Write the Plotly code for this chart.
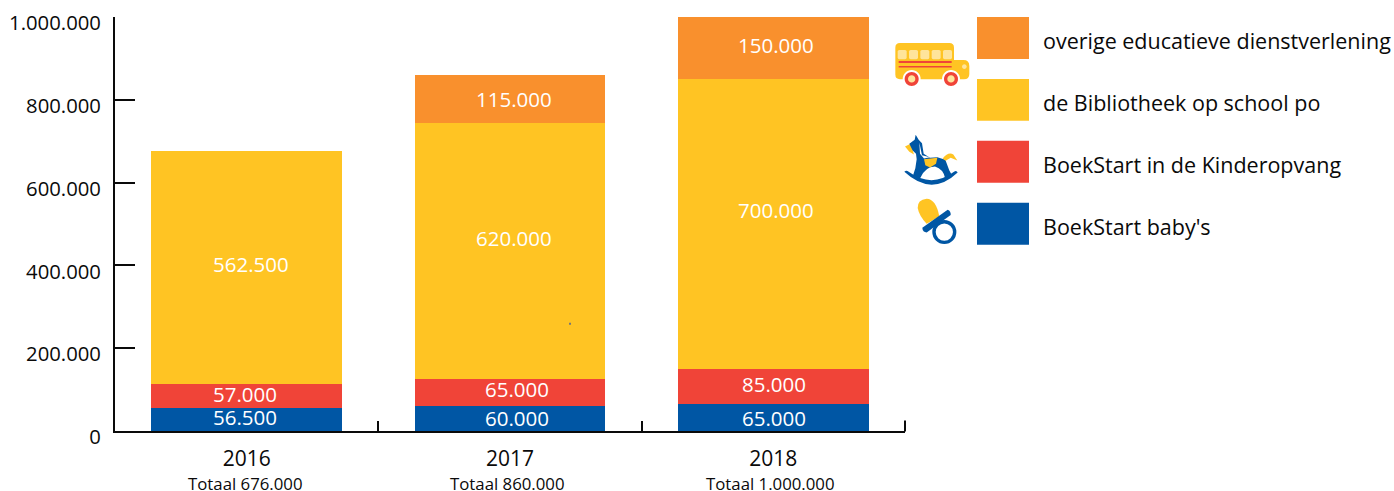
import re
import plotly.graph_objects as go

years = ["2016", "2017", "2018"]
totals = [676000, 860000, 1000000]
series_names = ["BoekStart baby's", "BoekStart in de Kinderopvang", "de Bibliotheek op school po", "overige educatieve dienstverlening"]
babys = [56500, 60000, 65000]
kinderopvang = [57000, 65000, 85000]
bibliotheek = [562500, 620000, 700000]
overige = [None, 115000, 150000]
colors = ["#0056A4", "#F04438", "#FFC423", "#F9902D"]
y_ticks = [0, 200000, 400000, 600000, 800000, 1000000]

# how far each value label sits from the middle of its segment, in pixels
label_lift = [
    [2, 1, 0],
    [2, 4, 3],
    [4, 12.5, 14],
    [0, 0, 3],
]
label_nudge = [
    [-1.5, 6.5, 0.5],
    [-1.5, 6.5, 0.5],
    [4, 4, 2.5],
    [0, 4, 2.5],
]
total_nudge = [-1.5, -3, -3]

W, H = 1394, 491
L, R, T, B = 115, 905, 17, 431.5
FONT = "Open Sans"
INK = "#0a0a0a"


def nl(v):
    return f"{v:,}".replace(",", ".")


def px_x(x):
    return (x - L) / (R - L)


def px_y(y):
    return (B - y) / (B - T)


fig = go.Figure()
all_series = [babys, kinderopvang, bibliotheek, overige]
for name, vals, col in zip(series_names, all_series, colors):
    fig.add_bar(x=years, y=vals, name=name, marker=dict(color=col, line_width=0), showlegend=False)

shapes, ann = [], []

# value labels
base = [0, 0, 0]
for vals, lifts, nudges in zip(all_series, label_lift, label_nudge):
    for i, (v, lift, nudge) in enumerate(zip(vals, lifts, nudges)):
        if v:
            ann.append(dict(text=nl(v), x=i, xref="x", y=base[i] + v / 2, yref="y", yshift=lift, xshift=nudge,
                            showarrow=False, font=dict(size=20.5, color="white", family=FONT)))
            base[i] += v


def zpath(d, fill, line=None, lw=0):
    """icon path given in crop coordinates, placed on the paper"""
    def conv(m):
        return f"{px_x(880 + float(m.group(1)) / 3):.5f},{px_y(float(m.group(2)) / 3):.5f}"
    p = re.sub(r"(-?[\d.]+),(-?[\d.]+)", conv, d)
    shapes.append(dict(type="path", xref="paper", yref="paper", path=p, fillcolor=fill,
                       line=dict(color=line or fill, width=lw), layer="above"))


def zcircle(cx, cy, r, fill, line=None, lw=0):
    k = 0.5523 * r
    zpath(f"M{cx-r},{cy} C{cx-r},{cy-k} {cx-k},{cy-r} {cx},{cy-r} C{cx+k},{cy-r} {cx+r},{cy-k} {cx+r},{cy} "
          f"C{cx+r},{cy+k} {cx+k},{cy+r} {cx},{cy+r} C{cx-k},{cy+r} {cx-r},{cy+k} {cx-r},{cy} Z", fill, line, lw)


YEL, CREAM, RED, BLUE = "#FFC423", "#FFE49B", "#F04438", "#0056A4"

# legend swatches and labels
rows = [(17, 59, 3), (79, 121, 2), (141, 183, 1), (203, 245, 0)]
for y0, y1, i in rows:
    shapes.append(dict(type="rect", xref="paper", yref="paper", x0=px_x(977), x1=px_x(1029),
                       y0=px_y(y1), y1=px_y(y0), fillcolor=colors[i], line_width=0))
    ann.append(dict(text=series_names[i], xref="paper", yref="paper", x=px_x(1043), y=px_y((y0 + y1) / 2 + 2.5),
                    xanchor="left", yanchor="middle", xshift=-2, showarrow=False,
                    font=dict(size=21.5, color=INK, family=FONT)))

# totals under the years
for i, t in enumerate(totals):
    ann.append(dict(text=f"Totaal {nl(t)}", x=i, xref="x", yref="paper", y=px_y(484), yanchor="middle",
                    xshift=total_nudge[i], showarrow=False, font=dict(size=16.8, color=INK, family=FONT)))

# closing tick at the right end of the category axis
shapes.append(dict(type="line", xref="paper", yref="paper", x0=1, x1=1, y0=px_y(432), y1=px_y(421),
                   line=dict(color=INK, width=2)))

# bus
zpath("M60,129 L208,129 Q222,129 222,143 L222,180 L250,180 Q268,180 268,198 L268,222 Q268,238 252,238 L60,238 Q46,238 46,224 L46,143 Q46,129 60,129 Z", YEL)
for wx in (53, 87, 121, 155, 189):
    zpath(f"M{wx+5},150 L{wx+22},150 Q{wx+27},150 {wx+27},155 L{wx+27},173 Q{wx+27},178 {wx+22},178 L{wx+5},178 Q{wx},178 {wx},173 L{wx},155 Q{wx},150 {wx+5},150 Z", CREAM)
zpath("M56,183 L215,183 L215,189 L56,189 Z", RED)
zpath("M56,198 L215,198 L215,203 L56,203 Z", RED)
zcircle(253, 200, 7, CREAM)
for cx in (95, 213):
    zcircle(cx, 237, 27, "white")
    zcircle(cx, 237, 21, RED)
    zcircle(cx, 237, 11, CREAM)

# rocking horse
zpath("M73,516 Q79,510 86,516 Q155,566 222,516 Q229,510 233,518 Q155,592 73,516 Z", BLUE)
zpath("M75,440 L92,432 L102,464 L88,456 Z", YEL)
zpath("M107,405 L116,420 L126,430 L131,462 L150,474 L172,472 L196,480 L208,512 L216,526 L195,534 Q190,508 165,500 Q135,500 120,536 L98,530 L106,505 L110,478 L108,462 L98,452 L88,432 L104,420 Z", BLUE)
zpath("M118,428 L126,466 L150,472 L132,476 L120,462 Z", "white")
zpath("M132,478 L172,474 L168,492 L150,503 L136,496 Z", YEL)
zpath("M188,476 Q205,455 220,464 L232,482 L212,474 L197,483 Z", YEL)

# pacifier
zpath("M113,625 Q112,600 140,597 Q168,598 178,650 L140,672 Q118,650 113,625 Z", YEL)
zpath("M127,684 L203,630 Q213,634 212,646 L140,698 Q128,698 127,684 Z", BLUE)
zcircle(193, 697, 31, "rgba(0,0,0,0)", BLUE, 3.4)

# stray speck on the 2017 bar
shapes.append(dict(type="rect", xref="paper", yref="paper", x0=px_x(569), x1=px_x(571), y0=px_y(325), y1=px_y(323),
                   fillcolor="#777", line_width=0, layer="above"))

fig.update_layout(
    barmode="stack", bargap=0.275, width=W, height=H,
    margin=dict(l=L, r=W - R, t=T, b=H - B, pad=0), autosize=False,
    plot_bgcolor="white", paper_bgcolor="white",
    font=dict(family=FONT, color=INK, size=20),
    shapes=shapes, annotations=ann,
    xaxis=dict(type="category", categoryarray=years, range=[-0.5, 2.5], tickson="boundaries", ticks="inside", ticklen=10, tickwidth=2,
               tickcolor=INK, showline=True, linecolor=INK, linewidth=2, showgrid=False, automargin=False,
               tickfont=dict(size=21), ticklabelstandoff=8, layer="below traces"),
    yaxis=dict(range=[0, 1000000], tickvals=y_ticks, ticktext=[nl(v) for v in y_ticks], ticks="inside", ticklen=20,
               tickwidth=2, tickcolor=INK, showline=True, linecolor=INK, linewidth=2, showgrid=False, automargin=False,
               zeroline=False, tickfont=dict(size=20.3), ticklabelstandoff=8, ticklabelshift=6, layer="below traces"),
)
fig.write_html("out.html", config={"displayModeBar": False},
               post_script="document.body.style.margin='0';document.body.style.overflow='hidden';")
